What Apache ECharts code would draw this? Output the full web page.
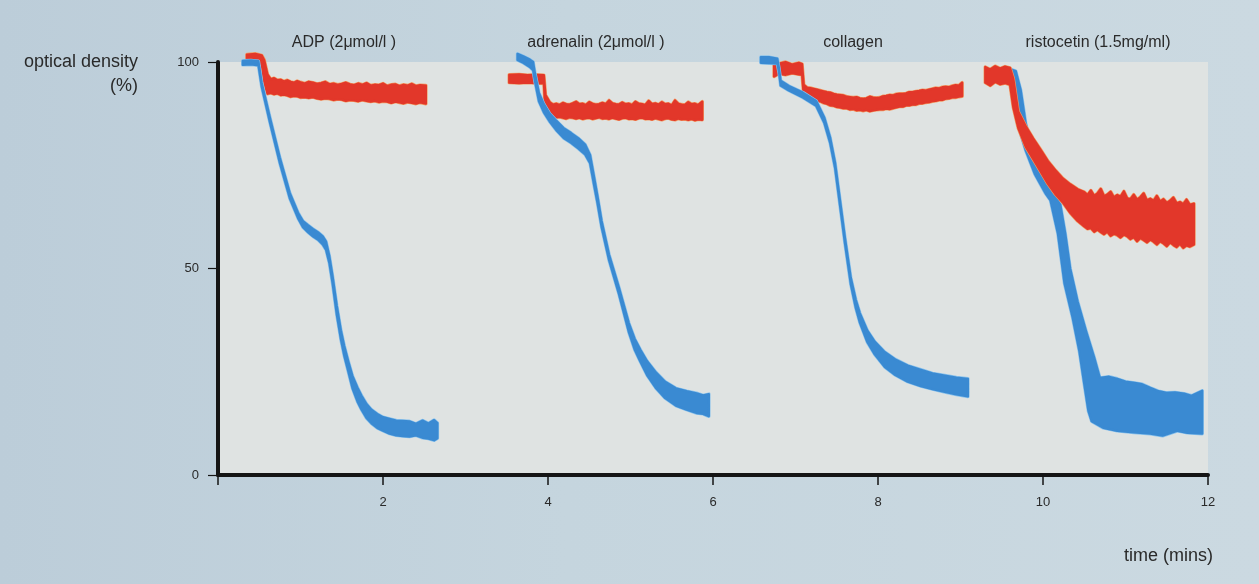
<!DOCTYPE html>
<html>
<head>
<meta charset="utf-8">
<title>Platelet aggregation traces</title>
<script src="https://cdn.jsdelivr.net/npm/echarts/dist/echarts.min.js"></script>
<style>
  html, body { margin: 0; padding: 0; }
  body { background: linear-gradient(90deg, #bccdd9 0%, #c5d5de 45%, #cbd9e1 100%); }
  #chart { width: 1259px; height: 584px; }
</style>
</head>
<body>
<div id="chart"></div>
<script>
// Axis ticks
const xTicks = [0, 2, 4, 6, 8, 10, 12];
const yTicks = [0, 50, 100];

// Panel headings (agonist per recording)
const panelTitles = ['ADP (2μmol/l )', 'adrenalin (2μmol/l )', 'collagen', 'ristocetin (1.5mg/ml)'];

// Each trace: [time (min), upper edge %, lower edge %] of the recorded band
const adpRed = [
  [0.35, 101.8, 99.6], [0.45, 102, 99.8], [0.53, 101.6, 99.5], [0.56, 100.5, 95],
  [0.60, 97.0, 92.3], [0.64, 95.8, 92.5], [0.68, 96.1, 92.2], [0.72, 95.6, 92.4],
  [0.76, 95.7, 92.0], [0.80, 95.3, 92.1], [0.84, 95.6, 91.9], [0.88, 95.2, 91.6],
  [0.92, 95.0, 91.8], [0.96, 95.4, 91.7], [1.00, 95.1, 91.4], [1.05, 94.8, 91.5],
  [1.10, 95.2, 91.3], [1.15, 95.0, 91.5], [1.20, 94.7, 91.2], [1.25, 94.9, 91.0],
  [1.30, 95.2, 91.2], [1.35, 94.6, 91.1], [1.40, 94.8, 90.8], [1.45, 94.5, 91.0],
  [1.50, 94.7, 90.9], [1.55, 95.0, 90.6], [1.60, 94.6, 90.8], [1.65, 94.4, 90.7],
  [1.70, 94.8, 90.5], [1.75, 94.5, 90.8], [1.80, 94.9, 90.6], [1.85, 94.3, 90.4],
  [1.90, 94.5, 90.6], [1.95, 94.4, 90.3], [2.00, 94.8, 90.5], [2.05, 94.2, 90.4],
  [2.10, 94.5, 90.1], [2.15, 94.6, 90.4], [2.20, 94.2, 90.2], [2.25, 94.5, 90.0],
  [2.30, 94.3, 90.3], [2.35, 94.7, 90.1], [2.40, 94.2, 89.9], [2.45, 94.4, 90.2],
  [2.52, 94.3, 89.9]
];
const adpBlue = [
  [0.30, 100.3, 99.3], [0.40, 100.4, 99.4], [0.49, 100.2, 99.2], [0.53, 95, 94],
  [0.63, 86.5, 85.3], [0.75, 76.8, 75.5], [0.87, 68.3, 67], [0.97, 63.5, 62.2],
  [1.03, 61.5, 60], [1.09, 60.5, 58.8], [1.15, 59.6, 57.8], [1.21, 58.8, 57],
  [1.27, 57.8, 55.8], [1.31, 56.5, 54.5], [1.35, 53, 51.3], [1.39, 48, 46.2],
  [1.44, 41, 38.8], [1.49, 35, 32.8], [1.53, 31.3, 28.9], [1.58, 27.5, 25],
  [1.63, 24, 21], [1.69, 21.2, 17.8], [1.74, 19.2, 15.8], [1.80, 17.2, 13.8],
  [1.86, 15.8, 12.5], [1.93, 14.8, 11.4], [2.00, 14, 10.7], [2.08, 13.6, 10],
  [2.16, 13.2, 9.6], [2.24, 13.1, 9.4], [2.32, 13, 9.3], [2.40, 12.4, 9.6],
  [2.48, 13.2, 9], [2.55, 12.5, 8.8], [2.62, 13.3, 8.4], [2.66, 12.6, 8.9]
];
const adrRed = [
  [3.53, 96.9, 95], [3.65, 97, 94.9], [3.75, 96.8, 95], [3.85, 96.9, 94.9],
  [3.95, 96.8, 94.8], [3.97, 92, 87.5], [4.02, 90.3, 86.5], [4.06, 89.7, 86.8],
  [4.10, 89.9, 86.6], [4.14, 89.6, 86.7], [4.18, 90.1, 86.5], [4.22, 89.8, 86.3],
  [4.26, 89.7, 86.6], [4.30, 90.0, 86.5], [4.34, 90.4, 86.3], [4.38, 89.8, 86.5],
  [4.42, 89.9, 86.2], [4.46, 89.6, 86.4], [4.50, 90.3, 86.5], [4.54, 89.9, 86.2],
  [4.58, 89.7, 86.4], [4.62, 89.8, 86.6], [4.66, 90.1, 86.3], [4.70, 89.8, 86.4],
  [4.74, 90.7, 86.2], [4.78, 90.0, 86.5], [4.82, 89.8, 86.3], [4.86, 89.7, 86.1],
  [4.90, 90.2, 86.4], [4.94, 89.8, 86.5], [4.98, 89.9, 86.2], [5.02, 89.6, 86.3],
  [5.06, 90.4, 86.1], [5.10, 89.9, 86.4], [5.14, 89.8, 86.5], [5.18, 89.6, 86.2],
  [5.22, 90.6, 86.3], [5.26, 89.8, 86.1], [5.30, 90.0, 86.4], [5.34, 89.7, 86.2],
  [5.38, 90.3, 86.0], [5.42, 89.8, 86.3], [5.46, 89.9, 86.4], [5.50, 89.5, 86.1],
  [5.54, 90.7, 86.0], [5.58, 89.9, 86.3], [5.62, 89.7, 86.1], [5.66, 89.6, 86.2],
  [5.70, 90.3, 86.0], [5.74, 89.8, 86.2], [5.78, 89.9, 85.9], [5.82, 89.6, 86.1],
  [5.87, 90.4, 86.0]
];
const adrBlue = [
  [3.63, 102, 100.5], [3.70, 101.4, 99.8], [3.78, 100.6, 98.8], [3.82, 100, 98],
  [3.84, 97.5, 95.5], [3.89, 92.5, 90.5], [3.95, 89.8, 87.8], [4.02, 87.5, 85.6],
  [4.10, 85.8, 83.5], [4.19, 84, 81.6], [4.28, 82.8, 80.4], [4.37, 81.5, 79],
  [4.45, 80, 77.6], [4.51, 77.5, 75.5], [4.56, 72, 70], [4.60, 67.5, 65.8],
  [4.65, 61.5, 60], [4.74, 53.4, 52], [4.86, 45.4, 43.8], [4.98, 36.8, 34.6],
  [5.05, 33, 30.4], [5.12, 30.3, 27.4], [5.20, 27.6, 24.2], [5.31, 24.8, 21],
  [5.42, 22.6, 18.6], [5.55, 21, 16.8], [5.68, 20.3, 15.8], [5.80, 19.8, 15],
  [5.88, 19.3, 14.8], [5.95, 19.6, 14.2]
];
const colRed = [
  [6.74, 100, 96.5], [6.80, 99.6, 97.2], [6.88, 100, 96.9], [6.96, 99.4, 97.3],
  [7.04, 99.8, 97], [7.08, 99.5, 96.9], [7.10, 94.5, 91.8], [7.14, 93.8, 91.4],
  [7.18, 93.7, 91.1], [7.22, 93.5, 90.9], [7.26, 93.3, 90.5], [7.30, 93.1, 90.5],
  [7.34, 92.9, 90.1], [7.38, 92.7, 89.9], [7.42, 92.6, 89.5], [7.46, 92.3, 89.4],
  [7.50, 92.1, 89.1], [7.54, 92.0, 89.0], [7.58, 91.9, 88.8], [7.62, 91.6, 88.8],
  [7.66, 91.5, 88.5], [7.70, 91.4, 88.6], [7.74, 91.5, 88.3], [7.78, 91.2, 88.4],
  [7.82, 91.1, 88.2], [7.86, 91.2, 88.4], [7.90, 91.6, 88.1], [7.94, 91.4, 88.3],
  [7.98, 91.3, 88.4], [8.02, 91.4, 88.5], [8.06, 91.7, 88.5], [8.10, 91.8, 88.7],
  [8.14, 92.0, 88.6], [8.18, 91.9, 88.8], [8.22, 92.2, 89.0], [8.26, 92.3, 89.2],
  [8.30, 92.3, 89.2], [8.34, 92.4, 89.5], [8.38, 92.7, 89.5], [8.42, 92.7, 89.7],
  [8.46, 92.9, 89.7], [8.50, 93.0, 90.0], [8.54, 93.2, 90.0], [8.58, 93.1, 90.2],
  [8.62, 93.3, 90.3], [8.66, 93.5, 90.5], [8.70, 93.7, 90.6], [8.74, 93.6, 90.8],
  [8.78, 93.9, 90.8], [8.82, 94.0, 91.1], [8.86, 93.9, 91.2], [8.90, 94.2, 91.4],
  [8.94, 94.4, 91.4], [8.98, 94.3, 91.6], [9.02, 95.0, 91.7]
];
const colBlue = [
  [6.58, 101.2, 99.8], [6.68, 101.2, 99.7], [6.78, 100.8, 99.6], [6.80, 98.5, 97.5],
  [6.82, 95.5, 94.3], [6.92, 94.2, 93.1], [7.09, 92.6, 91.4], [7.25, 90.6, 89.4],
  [7.35, 86.5, 85.2], [7.42, 81.7, 80.4], [7.48, 75.6, 74.3], [7.52, 69.5, 68.2],
  [7.60, 57.4, 56], [7.67, 47.8, 46.2], [7.73, 42.5, 40.5], [7.78, 39.2, 36.9],
  [7.87, 35, 32.2], [7.96, 32.3, 29.2], [8.08, 29.8, 26.2], [8.21, 28, 24.2],
  [8.36, 26.5, 22.6], [8.52, 25.5, 21.5], [8.66, 24.6, 20.8], [8.81, 24.1, 20.1],
  [8.95, 23.6, 19.5], [9.09, 23.3, 19]
];
const risRed = [
  [9.30, 98.8, 95], [9.36, 98.2, 94.3], [9.42, 99, 95.2], [9.48, 98.4, 94.6],
  [9.54, 98.9, 94.9], [9.60, 98.6, 94.5], [9.64, 96, 89], [9.70, 88, 84],
  [9.79, 84.5, 79.5], [9.88, 81.5, 76.5], [9.97, 78.8, 73.5], [10.06, 76, 70.5],
  [10.15, 73.8, 68], [10.24, 71.8, 66], [10.33, 70.4, 63.5], [10.42, 69.2, 61.5],
  [10.50, 68.5, 60.2], [10.54, 67.8, 59.6], [10.58, 68.9, 59.8], [10.62, 67.6, 58.9],
  [10.66, 68.2, 59.4], [10.70, 69.3, 58.8], [10.74, 67.5, 58.3], [10.78, 67.9, 58.9],
  [10.82, 68.6, 57.9], [10.86, 67.2, 58.4], [10.90, 67.8, 58.1], [10.94, 67.4, 57.5],
  [10.98, 68.7, 58.2], [11.02, 67.0, 57.8], [11.06, 66.8, 57.1], [11.10, 67.9, 57.6],
  [11.14, 66.7, 56.6], [11.18, 67.3, 57.4], [11.22, 68.2, 56.9], [11.26, 66.5, 56.3],
  [11.30, 66.9, 57.0], [11.34, 66.4, 56.5], [11.38, 67.6, 55.8], [11.42, 66.2, 56.6],
  [11.46, 66.8, 56.1], [11.50, 65.9, 55.4], [11.54, 66.4, 56.3], [11.58, 67.2, 55.7],
  [11.62, 65.8, 55.2], [11.66, 66.1, 56.0], [11.70, 65.6, 55.0], [11.74, 66.7, 55.6],
  [11.78, 65.4, 55.3], [11.83, 65.7, 55.8]
];
// Ristocetin response falls steeply, so its two edges are kept separately
const risBlueTop = [
  [9.57, 98.5], [9.67, 97.8], [9.73, 93.2], [9.79, 85.2], [9.87, 78.6], [9.97, 72.9],
  [10.12, 68.2], [10.21, 65.5], [10.27, 58.5], [10.33, 50], [10.42, 42], [10.52, 35],
  [10.62, 28.5], [10.69, 23.5], [10.80, 23.8], [10.90, 23.3], [11.00, 22.6], [11.11, 22.3],
  [11.20, 22.0], [11.30, 21.1], [11.40, 20.3], [11.50, 19.9], [11.60, 20.0], [11.71, 19.7],
  [11.80, 19.2], [11.93, 20.4]
];
const risBlueBottom = [
  [9.57, 97.1], [9.61, 95.3], [9.69, 85.2], [9.79, 78.6], [9.90, 72.9], [10.03, 68.2],
  [10.09, 66.5], [10.18, 58.5], [10.26, 46.4], [10.36, 38], [10.44, 30], [10.50, 22],
  [10.55, 15.5], [10.59, 13], [10.73, 11.4], [10.90, 10.7], [11.10, 10.3], [11.30, 10.0],
  [11.45, 9.5], [11.63, 10.7], [11.75, 10.2], [11.93, 10.0]
];

const RED = '#e2372a', RED_EDGE = '#f39a62';
const BLUE = '#3a8ad2', BLUE_EDGE = '#8cc3ec';

function edgesFrom(rows) {
  return {
    top: rows.map(r => [r[0], r[1]]),
    bottom: rows.map(r => [r[0], r[2]])
  };
}

// A recorded trace drawn as a filled band between its upper and lower edges
function bandSeries(name, edges, fill, halo) {
  return {
    type: 'custom',
    name: name,
    coordinateSystem: 'cartesian2d',
    silent: true,
    animation: false,
    data: [edges.top[0]],
    renderItem: function (params, api) {
      const pts = edges.top.map(p => api.coord(p))
        .concat(edges.bottom.slice().reverse().map(p => api.coord(p)));
      return {
        type: 'group',
        children: [
          { type: 'polygon', shape: { points: pts },
            style: { fill: halo, stroke: halo, lineWidth: 3.4, lineJoin: 'round' } },
          { type: 'polygon', shape: { points: pts },
            style: { fill: fill, stroke: fill, lineWidth: 2.2, lineJoin: 'round' } }
        ]
      };
    }
  };
}

const FONT = '"Liberation Sans", Arial, Helvetica, sans-serif';
const TEXT = '#2a2a2a';

const chart = echarts.init(document.getElementById('chart'), null, { renderer: 'canvas' });

chart.setOption({
  backgroundColor: 'transparent',
  animation: false,
  grid: {
    left: 218, right: 51, top: 62, bottom: 109,
    show: true, backgroundColor: '#dfe3e2', borderWidth: 0
  },
  xAxis: {
    type: 'value',
    min: xTicks[0], max: xTicks[xTicks.length - 1], interval: 2,
    axisLine: { show: true, onZero: false, lineStyle: { color: '#151515', width: 4 } },
    axisTick: { show: true, length: 10, lineStyle: { color: '#151515', width: 1.5 } },
    axisLabel: {
      margin: 21, fontSize: 13, fontFamily: FONT, color: TEXT,
      formatter: v => (v === 0 ? '' : String(v))
    },
    splitLine: { show: false }
  },
  yAxis: {
    type: 'value',
    min: yTicks[0], max: yTicks[yTicks.length - 1], interval: 50,
    axisLine: { show: true, onZero: false, lineStyle: { color: '#151515', width: 4 } },
    axisTick: { show: true, length: 10, lineStyle: { color: '#151515', width: 1.2 } },
    axisLabel: { margin: 19, fontSize: 13, fontFamily: FONT, color: TEXT },
    splitLine: { show: false }
  },
  graphic: [
    { type: 'text', x: 138, y: 62, style: { text: 'optical density', font: '18px ' + FONT, fill: TEXT, align: 'right', verticalAlign: 'middle' } },
    { type: 'text', x: 138, y: 86, style: { text: '(%)', font: '18px ' + FONT, fill: TEXT, align: 'right', verticalAlign: 'middle' } },
    { type: 'text', x: 1213, y: 556, style: { text: 'time (mins)', font: '18px ' + FONT, fill: TEXT, align: 'right', verticalAlign: 'middle' } },
    { type: 'text', x: 344, y: 43, style: { text: panelTitles[0], font: '16px ' + FONT, fill: TEXT, align: 'center', verticalAlign: 'middle' } },
    { type: 'text', x: 596, y: 43, style: { text: panelTitles[1], font: '16px ' + FONT, fill: TEXT, align: 'center', verticalAlign: 'middle' } },
    { type: 'text', x: 853, y: 43, style: { text: panelTitles[2], font: '16px ' + FONT, fill: TEXT, align: 'center', verticalAlign: 'middle' } },
    { type: 'text', x: 1098, y: 43, style: { text: panelTitles[3], font: '16px ' + FONT, fill: TEXT, align: 'center', verticalAlign: 'middle' } }
  ],
  series: [
    bandSeries('ADP control', edgesFrom(adpRed), RED, RED_EDGE),
    bandSeries('ADP', edgesFrom(adpBlue), BLUE, BLUE_EDGE),
    bandSeries('adrenalin control', edgesFrom(adrRed), RED, RED_EDGE),
    bandSeries('adrenalin', edgesFrom(adrBlue), BLUE, BLUE_EDGE),
    bandSeries('collagen control', edgesFrom(colRed), RED, RED_EDGE),
    bandSeries('collagen', edgesFrom(colBlue), BLUE, BLUE_EDGE),
    bandSeries('ristocetin', { top: risBlueTop, bottom: risBlueBottom }, BLUE, BLUE_EDGE),
    bandSeries('ristocetin control', edgesFrom(risRed), RED, RED_EDGE)
  ]
});
</script>
</body>
</html>
